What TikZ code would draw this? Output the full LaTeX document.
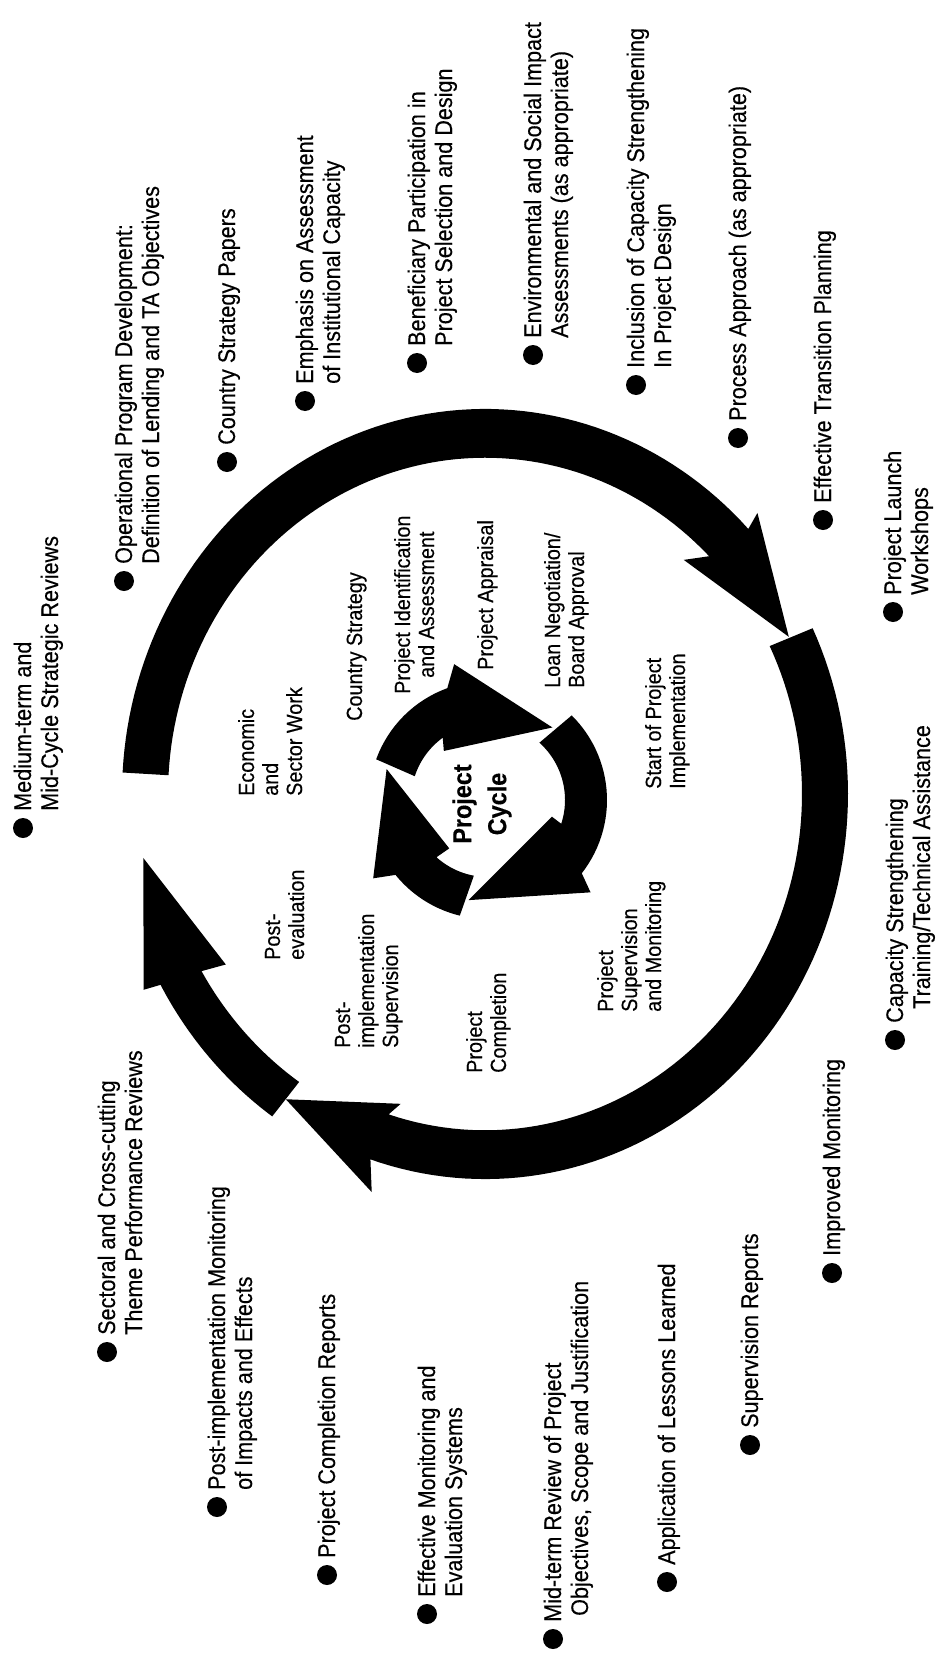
\documentclass[tikz,border=0pt]{standalone}
\usepackage{fontspec}
\setmainfont[FakeStretch=0.9,FakeBold=0.3]{Liberation Sans}
\newcommand\bitem[4]{%
  \fill (#2,#3) circle[radius=10];
  \node[outtext] (#1) at ({#2+8},{#3-17}) {\begin{tabular}[t]{@{}l@{}}#4\end{tabular}};}
\newcommand\llines[1]{\begin{tabular}[t]{@{}l@{}}#1\end{tabular}}
\newcommand\clines[1]{\begin{tabular}[t]{@{}c@{}}#1\end{tabular}}
\begin{document}
\begin{tikzpicture}[x=1pt,y=-1pt,
  outtext/.style={rotate=90, anchor=base west, inner sep=0pt, font=\fontsize{24}{27}\selectfont},
  intext/.style={rotate=90, anchor=base west, inner sep=0pt, font=\fontsize{22}{24}\selectfont},
  blackpart/.style={fill=black}]
\useasboundingbox (0,0) rectangle (938,1656);
\fill[white] (0,0) rectangle (938,1656);

% big ring
\begin{scope}[shift={(485,794)}, yscale=1.0608]
\fill[blackpart] (183.2:363) -- plot[domain=183.2:316.5,samples=80] (\x:363) -- (315.8:380)
  -- (334:338) -- (312:297) -- (315:317) -- plot[domain=315:183.2,samples=80] (\x:317) -- cycle;
\fill[blackpart] (334.5:363) -- plot[domain=334.5:468.4,samples=80] (\x:363) -- (466.8:392)
  -- (484.7:350) -- (466.1:304) -- (467.7:317) -- plot[domain=467.7:333.9,samples=80] (\x:317) -- cycle;
\fill[blackpart] (125:371) -- plot[domain=125:151,samples=40] (\x:371) -- (151.6:388)
  -- (170:347) -- (148.2:305) -- (149.5:329) -- plot[domain=149.5:124.4,samples=40] (\x:329) -- cycle;
\end{scope}

% inner project cycle
\begin{scope}[shift={(488,800)}]
\fill[blackpart] (200:119) -- plot[domain=200:250,samples=30] (\x:119) -- (256:140)
  -- (311.6:97) -- (228:66) -- (234:77) -- plot[domain=234:198,samples=30] (\x:77) -- cycle;
\fill[blackpart] (314.7:119) -- plot[domain=314.7:398,samples=30] (\x:119) -- (402:138)
  -- (461:102) -- (374.6:66) -- (378:77) -- plot[domain=378:311.9,samples=30] (\x:77) -- cycle;
\fill[blackpart] (463.7:119) -- plot[domain=463.7:501,samples=30] (\x:119) -- (505.7:139)
  -- (557:106) -- (488.7:62) -- (492:77) -- plot[domain=492:460.6,samples=30] (\x:77) -- cycle;
\end{scope}

\node[rotate=90, inner sep=0pt, align=center, font=\bfseries\fontsize{26}{35}\selectfont] (pc) at (482,804) {Project\\Cycle};

% inner labels
\node[intext] (esw) at (254,796) {\llines{Economic\\and\\Sector Work}};
\node[intext] (cs) at (362,721) {\llines{Country Strategy}};
\node[intext] (pia) at (410,694) {\clines{Project Identification\\and Assessment}};
\node[intext] (pa) at (493,670) {\llines{Project Appraisal}};
\node[intext] (lnba) at (560,688) {\llines{Loan Negotiation/\\Board Approval}};
\node[intext] (spi) at (661,789) {\llines{Start of Project\\Implementation}};
\node[intext] (psm) at (613,1012) {\llines{Project\\Supervision\\and Monitoring}};
\node[intext] (pcomp) at (482,1073) {\llines{Project\\Completion}};
\node[intext] (pis) at (350,1048) {\llines{Post-\\implementation\\Supervision}};
\node[intext] (pe) at (280,960) {\llines{Post-\\evaluation}};

% outer bullet items
\bitem{medterm}{23}{828}{Medium-term and\\Mid-Cycle Strategic Reviews}
\bitem{oper}{124}{581}{Operational Program Development:\\Definition of Lending and TA Objectives}
\bitem{csp}{227}{462}{Country Strategy Papers}
\bitem{emph}{305}{401}{Emphasis on Assessment\\of Institutional Capacity}
\bitem{benef}{417}{363}{Beneficiary Participation in\\Project Selection and Design}
\bitem{envir}{533}{355}{Environmental and Social Impact\\Assessments (as appropriate)}
\bitem{incl}{636}{385}{Inclusion of Capacity Strengthening\\In Project Design}
\bitem{proc}{738}{438}{Process Approach (as appropriate)}
\bitem{efftrans}{823}{520}{Effective Transition Planning}
\bitem{launch}{893}{612}{Project Launch\\Workshops}
\bitem{capac}{895}{1040}{Capacity Strengthening\\\hspace*{14pt}Training/Technical Assistance}
\bitem{impmon}{832}{1273}{Improved Monitoring}
\bitem{supr}{750}{1445}{Supervision Reports}
\bitem{appl}{667}{1582}{Application of Lessons Learned}
\bitem{midrev}{553}{1639}{Mid-term Review of Project\\\hspace*{6pt}Objectives, Scope and Justification}
\bitem{effmon}{427}{1614}{Effective Monitoring and\\Evaluation Systems}
\bitem{pcr}{327}{1575}{Project Completion Reports}
\bitem{postmon}{217}{1507}{Post-implementation Monitoring\\of Impacts and Effects}
\bitem{sector}{107}{1352}{Sectoral and Cross-cutting\\Theme Performance Reviews}
\end{tikzpicture}
\end{document}
